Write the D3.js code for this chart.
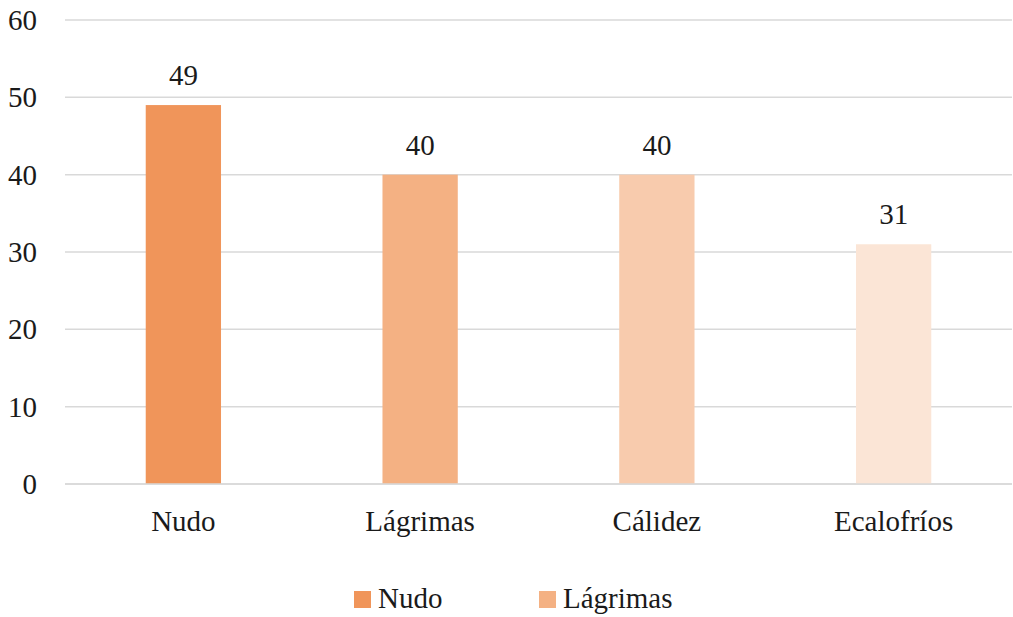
<!DOCTYPE html>
<html>
<head>
<meta charset="utf-8">
<script src="https://cdn.jsdelivr.net/npm/d3@7"></script>
<style>
  .lbl { font-family: "Liberation Serif", "Times New Roman", Tinos, serif !important; font-size: 29px; fill: #1a1a1a; }
</style>
</head>
<body style="margin:0">
<svg id="chart" width="1013" height="617" style="display:block; background:#ffffff"></svg>
<script>
// Categories and values
const categories = ["Nudo", "Lágrimas", "Cálidez", "Ecalofríos"];
const values = [49, 40, 40, 31];
const barColors = ["#F0955A", "#F4B183", "#F8CBAD", "#FBE5D6"];
const yTicks = [0, 10, 20, 30, 40, 50, 60];
const legendItems = ["Nudo", "Lágrimas"];

const svg = d3.select("#chart");
const plotLeft = 65, plotRight = 1012, plotTop = 20, plotBottom = 484;

const x = d3.scaleBand()
  .domain(categories)
  .range([plotLeft, plotRight])
  .paddingInner(0.682)
  .paddingOuter(0.341);

const y = d3.scaleLinear().domain([0, 60]).range([plotBottom, plotTop]);

// Gridlines
svg.append("g")
  .selectAll("line")
  .data(yTicks)
  .join("line")
  .attr("x1", plotLeft)
  .attr("x2", plotRight)
  .attr("y1", d => y(d))
  .attr("y2", d => y(d))
  .attr("stroke", "#d9d9d9")
  .attr("stroke-width", 1.5);

// Y tick labels
svg.append("g")
  .selectAll("text")
  .data(yTicks)
  .join("text")
  .attr("class", "lbl")
  .attr("x", 37)
  .attr("y", d => y(d) + 10)
  .attr("text-anchor", "end")
  .text(d => d);

// Bars
svg.append("g")
  .selectAll("rect")
  .data(values)
  .join("rect")
  .attr("x", (d, i) => x(categories[i]))
  .attr("width", x.bandwidth())
  .attr("y", d => y(d))
  .attr("height", d => y(0) - y(d))
  .attr("fill", (d, i) => barColors[i]);

// Baseline drawn over the bars
svg.append("line")
  .attr("x1", plotLeft).attr("x2", plotRight)
  .attr("y1", y(0)).attr("y2", y(0))
  .attr("stroke", "#d9d9d9")
  .attr("stroke-width", 1.5);

// Value labels
svg.append("g")
  .selectAll("text")
  .data(values)
  .join("text")
  .attr("class", "lbl")
  .attr("x", (d, i) => x(categories[i]) + x.bandwidth() / 2)
  .attr("y", d => y(d) - 20)
  .attr("text-anchor", "middle")
  .text(d => d);

// Category labels
svg.append("g")
  .selectAll("text")
  .data(categories)
  .join("text")
  .attr("class", "lbl")
  .attr("x", d => x(d) + x.bandwidth() / 2)
  .attr("y", 531)
  .attr("text-anchor", "middle")
  .text(d => d);

// Legend
const legendX = [354, 539];
const lg = svg.append("g")
  .selectAll("g")
  .data(legendItems)
  .join("g")
  .attr("transform", (d, i) => `translate(${legendX[i]},591)`);
lg.append("rect")
  .attr("width", 17)
  .attr("height", 17)
  .attr("fill", (d, i) => barColors[i]);
lg.append("text")
  .attr("class", "lbl")
  .attr("x", 24)
  .attr("y", 17)
  .text(d => d);
</script>
</body>
</html>
